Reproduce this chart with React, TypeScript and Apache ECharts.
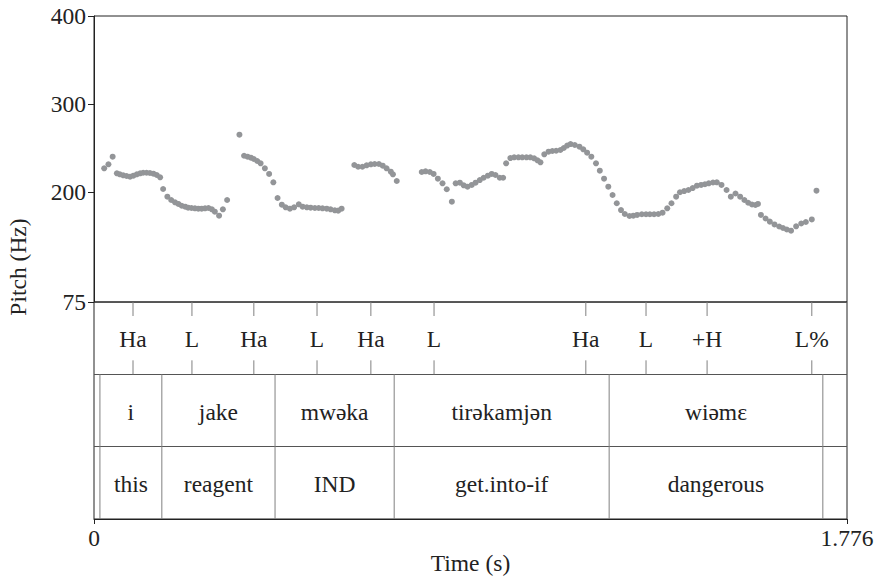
import React, { useEffect, useRef } from "react";
import * as echarts from "echarts";

// Pitch track: [time (s), pitch (Hz)]
const pitchPoints: [number, number][] = [
  [0.024, 226.9], [0.034, 231.5], [0.044, 240.1], [0.054, 221.2], [0.061, 220.1], [0.069, 219.0],
  [0.077, 218.2], [0.085, 217.4], [0.093, 218.5], [0.101, 220.1], [0.109, 221.2], [0.116, 221.9],
  [0.124, 221.9], [0.132, 221.6], [0.140, 220.8], [0.148, 219.3], [0.156, 216.7], [0.163, 203.4],
  [0.173, 194.7], [0.182, 190.9], [0.191, 188.3], [0.199, 186.4], [0.207, 184.4], [0.215, 183.3],
  [0.222, 182.2], [0.230, 181.8], [0.238, 181.5], [0.246, 181.0], [0.254, 181.0], [0.262, 181.5],
  [0.270, 181.8], [0.278, 180.3], [0.285, 177.6], [0.295, 173.1], [0.304, 180.3], [0.314, 190.9],
  [0.343, 265.1], [0.354, 241.2], [0.362, 240.1], [0.370, 239.0], [0.377, 237.5], [0.385, 235.2],
  [0.393, 232.6], [0.403, 226.9], [0.413, 220.5], [0.423, 211.0], [0.433, 193.2], [0.443, 185.6],
  [0.452, 182.6], [0.462, 181.0], [0.472, 182.6], [0.483, 186.0], [0.492, 183.3], [0.502, 182.6],
  [0.511, 182.2], [0.521, 181.8], [0.530, 181.8], [0.539, 181.5], [0.549, 181.0], [0.558, 180.3],
  [0.568, 179.2], [0.576, 178.8], [0.584, 181.0],
  [0.614, 230.7], [0.623, 228.7], [0.633, 228.7], [0.643, 230.3], [0.653, 231.5], [0.662, 231.8],
  [0.672, 231.8], [0.681, 229.9], [0.690, 226.9], [0.700, 223.1], [0.705, 220.1], [0.714, 212.5],
  [0.773, 222.7], [0.782, 223.5], [0.792, 222.7], [0.801, 220.5], [0.811, 215.1], [0.822, 209.9],
  [0.832, 203.1], [0.844, 189.0], [0.853, 209.9], [0.863, 210.6], [0.872, 207.6], [0.881, 206.0],
  [0.891, 208.0], [0.900, 210.6], [0.910, 213.6], [0.919, 216.2], [0.929, 218.5], [0.938, 220.5],
  [0.947, 219.3], [0.957, 216.2], [0.965, 216.2],
  [0.972, 232.6], [0.982, 238.6], [0.991, 239.4], [1.001, 239.4], [1.010, 239.4], [1.020, 239.4],
  [1.029, 239.4], [1.038, 238.3], [1.046, 236.0], [1.053, 233.7],
  [1.062, 242.8], [1.072, 245.8], [1.081, 246.6], [1.090, 246.9], [1.100, 247.7], [1.108, 250.0],
  [1.116, 252.8], [1.124, 254.5], [1.134, 253.4], [1.145, 251.5], [1.154, 248.5], [1.163, 244.7],
  [1.173, 240.1], [1.184, 232.6], [1.193, 224.2], [1.203, 215.1], [1.213, 206.0], [1.223, 196.6],
  [1.233, 187.2], [1.243, 179.5], [1.252, 175.0], [1.263, 172.7], [1.272, 173.1], [1.281, 173.9],
  [1.292, 174.7], [1.302, 174.7], [1.311, 174.7], [1.321, 174.7], [1.331, 175.0], [1.341, 176.5],
  [1.352, 181.5], [1.362, 187.2], [1.373, 194.7], [1.382, 199.7], [1.392, 201.1], [1.402, 202.3],
  [1.412, 204.5], [1.422, 207.2], [1.432, 208.0], [1.441, 208.8], [1.450, 209.9], [1.460, 210.8],
  [1.469, 211.0], [1.480, 208.0], [1.492, 202.3], [1.502, 194.7],
  [1.513, 198.3], [1.524, 194.7], [1.534, 190.9], [1.543, 187.8], [1.552, 185.8], [1.560, 185.2],
  [1.566, 186.4],
  [1.573, 173.9], [1.584, 169.9], [1.594, 166.3], [1.605, 163.1], [1.616, 160.8], [1.625, 159.1],
  [1.634, 157.4], [1.644, 156.0], [1.656, 161.0], [1.668, 164.2], [1.679, 165.9], [1.693, 168.8],
  [1.704, 201.5],
];

const toneTimes = [0.092, 0.231, 0.377, 0.526, 0.653, 0.802, 1.16, 1.302, 1.446, 1.693];
const toneLabels = ["Ha", "L", "Ha", "L", "Ha", "L", "Ha", "L", "+H", "L%"];

const wordBounds = [0.014, 0.16, 0.427, 0.708, 1.215, 1.719];
const words = ["i", "jake", "mwəka", "tirəkamjən", "wiəmɛ"];
const glosses = ["this", "reagent", "IND", "get.into-if", "dangerous"];

const pitchTicks = [75, 200, 300, 400];
const timeTicks = [0, 1.776];
const timeMax = 1.776;

const FONT_FAMILY = "'Liberation Serif', 'DejaVu Serif', serif";
const FONT_SIZE = 23.5;
const TEXT_COLOR = "#222";
const FRAME = "#222";
const TIER_LINE = "#808080";

export default function App() {
  const ref = useRef<HTMLDivElement>(null);

  useEffect(() => {
    if (!ref.current) return;
    const chart = echarts.init(ref.current, undefined, { renderer: "svg" });
    const font = `${FONT_SIZE}px ${FONT_FAMILY}`;

    const option: any = {
      animation: false,
      backgroundColor: "#fff",
      textStyle: { fontFamily: FONT_FAMILY },
      grid: [
        { left: 94, top: 16, width: 753, height: 286, show: true, borderColor: FRAME, borderWidth: 1, backgroundColor: "transparent" },
        { left: 94, top: 302, width: 753, height: 217, show: true, borderColor: FRAME, borderWidth: 1, backgroundColor: "transparent" },
      ],
      xAxis: [
        { type: "value", gridIndex: 0, min: 0, max: timeMax, show: false },
        {
          type: "value",
          gridIndex: 1,
          min: 0,
          max: timeMax,
          axisLine: { show: true, lineStyle: { color: FRAME } },
          axisTick: { show: true, customValues: timeTicks, length: 5, lineStyle: { color: FRAME } },
          axisLabel: {
            customValues: timeTicks,
            formatter: (v: number) => String(v),
            fontSize: FONT_SIZE,
            fontFamily: FONT_FAMILY,
            color: TEXT_COLOR,
            margin: 7,
          },
          splitLine: { show: false },
          name: "Time (s)",
          nameLocation: "middle",
          nameGap: 31,
          nameTextStyle: { fontSize: FONT_SIZE, fontFamily: FONT_FAMILY, color: TEXT_COLOR },
        },
      ],
      yAxis: [
        {
          type: "value",
          gridIndex: 0,
          min: 75,
          max: 400,
          axisLine: { show: true, lineStyle: { color: FRAME } },
          axisTick: { show: true, customValues: pitchTicks, length: 6, lineStyle: { color: FRAME } },
          axisLabel: {
            customValues: pitchTicks,
            fontSize: FONT_SIZE,
            fontFamily: FONT_FAMILY,
            color: TEXT_COLOR,
            margin: 8,
          },
          splitLine: { show: false },
        },
        {
          type: "value",
          gridIndex: 1,
          min: 0,
          max: 3,
          interval: 1,
          axisLine: { show: false },
          axisTick: { show: false },
          axisLabel: { show: false },
          splitLine: { show: true, lineStyle: { color: "#555", width: 1 } },
        },
      ],
      graphic: [
        {
          type: "text",
          x: 18,
          y: 267,
          rotation: Math.PI / 2,
          style: {
            text: "Pitch (Hz)",
            font,
            fill: TEXT_COLOR,
            align: "center",
            verticalAlign: "middle",
          },
        },
      ],
      series: [
        {
          type: "scatter",
          xAxisIndex: 0,
          yAxisIndex: 0,
          symbol: "circle",
          symbolSize: 6,
          itemStyle: { color: "#939598", opacity: 1 },
          data: pitchPoints,
          silent: true,
        },
        {
          type: "custom",
          xAxisIndex: 1,
          yAxisIndex: 1,
          silent: true,
          data: toneTimes.map((t, i) => [t, i]),
          renderItem: (params: any, api: any) => {
            const t = api.value(0);
            const i = api.value(1);
            const top = api.coord([t, 3]);
            const bot = api.coord([t, 2]);
            const mid = api.coord([t, 2.5]);
            return {
              type: "group",
              children: [
                { type: "line", shape: { x1: top[0], y1: top[1], x2: top[0], y2: top[1] + 14 }, style: { stroke: TIER_LINE, lineWidth: 1 } },
                { type: "line", shape: { x1: bot[0], y1: bot[1] - 14, x2: bot[0], y2: bot[1] }, style: { stroke: TIER_LINE, lineWidth: 1 } },
                {
                  type: "text",
                  style: { text: toneLabels[i], x: mid[0], y: mid[1] + 1, font, fill: TEXT_COLOR, align: "center", verticalAlign: "middle" },
                },
              ],
            };
          },
        },
        {
          type: "custom",
          xAxisIndex: 1,
          yAxisIndex: 1,
          silent: true,
          data: wordBounds.map((t) => [t]),
          renderItem: (params: any, api: any) => {
            const t = api.value(0);
            const a = api.coord([t, 2]);
            const b = api.coord([t, 0]);
            return { type: "line", shape: { x1: a[0], y1: a[1], x2: b[0], y2: b[1] }, style: { stroke: TIER_LINE, lineWidth: 1 } };
          },
        },
        {
          type: "custom",
          xAxisIndex: 1,
          yAxisIndex: 1,
          silent: true,
          data: words.map((w, i) => [(wordBounds[i] + wordBounds[i + 1]) / 2, i]),
          renderItem: (params: any, api: any) => {
            const t = api.value(0);
            const i = api.value(1);
            const w = api.coord([t, 1.5]);
            const g = api.coord([t, 0.5]);
            return {
              type: "group",
              children: [
                { type: "text", style: { text: words[i], x: w[0], y: w[1] + 1, font, fill: TEXT_COLOR, align: "center", verticalAlign: "middle" } },
                { type: "text", style: { text: glosses[i], x: g[0], y: g[1] + 1, font, fill: TEXT_COLOR, align: "center", verticalAlign: "middle" } },
              ],
            };
          },
        },
      ],
    };

    chart.setOption(option);
    return () => chart.dispose();
  }, []);

  return <div ref={ref} style={{ position: "fixed", left: 0, top: 0, width: 879, height: 578 }} />;
}
